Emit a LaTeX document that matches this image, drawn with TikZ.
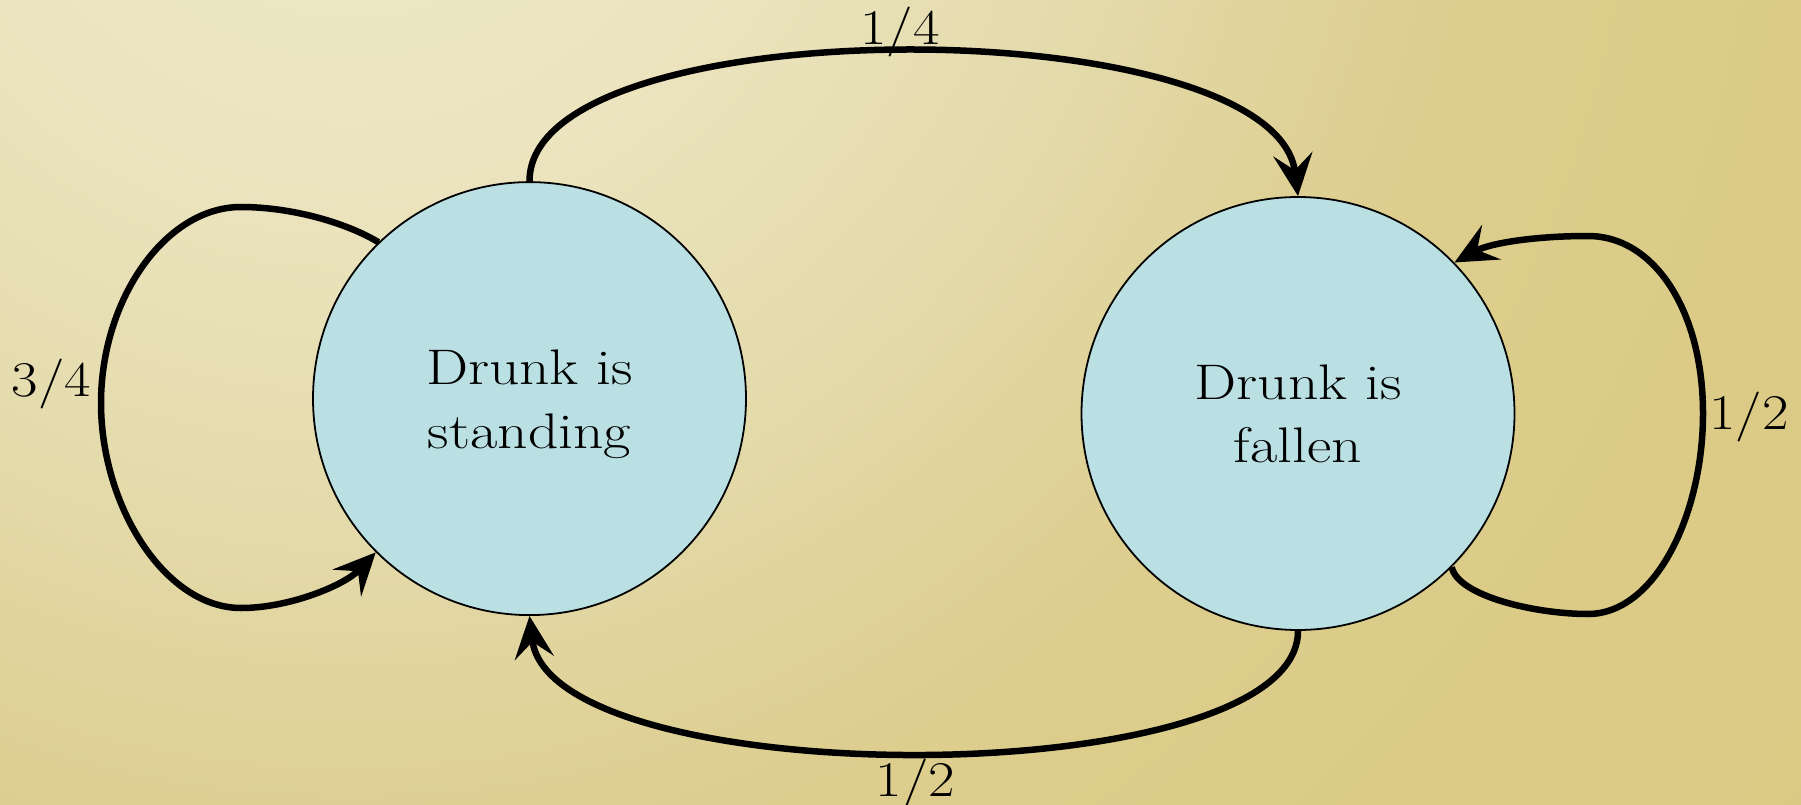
\documentclass[tikz,border=0pt]{standalone}
\usepackage{fontspec}
\newfontfamily\statefont{Latin Modern Roman}[FakeStretch=1.19]
\newfontfamily\probfont{Latin Modern Roman}[FakeStretch=1.15]
\usetikzlibrary{arrows.meta}
\definecolor{statefill}{RGB}{186,224,227}
\definecolor{bgouter}{RGB}{218,201,131}
% warm background glow, light in the upper left
% (the 25bp ring lands on the edge of the shaded circle)
\pgfdeclareradialshading{bgglow}{\pgfpoint{0bp}{0bp}}{%
  rgb(0bp)=(0.933,0.910,0.780);
  rgb(5.7bp)=(0.922,0.894,0.745);
  rgb(10bp)=(0.894,0.859,0.675);
  rgb(14.6bp)=(0.867,0.808,0.561);
  rgb(19.4bp)=(0.859,0.796,0.529);
  rgb(25bp)=(0.855,0.788,0.514);
  rgb(50bp)=(0.855,0.788,0.514)}
\begin{document}
\begin{tikzpicture}[x=1pt,y=-1pt,
  state/.style={circle, draw=black, line width=1.8pt, fill=statefill,
    minimum size=433pt, inner sep=0pt},
  statetext/.style={align=center, inner sep=0pt,
    font=\statefont\fontsize{50}{63.3}\selectfont},
  prob/.style={font=\probfont\fontsize{50}{60}\selectfont, anchor=base,
    inner sep=0pt},
  trans/.style={line width=6.5pt,
    -{Stealth[length=42pt,width=39pt,inset=16pt]}},
]
\useasboundingbox (0,0) rectangle (1801,805);
\begin{scope}
  \clip (0,0) rectangle (1801,805);
  \fill[bgouter] (0,0) rectangle (1801,805);
  \shade[shading=bgglow] (350,-250) circle (1900);
\end{scope}

% the two states
\node[state] (s) at (529.5,398.6) {};
\node[state] (f) at (1298,413.5) {};
\node[statetext] (stxt) at (529.5,404.1) {Drunk is\\standing};
\node[statetext] (ftxt) at (1298,419) {Drunk is\\fallen\vphantom{g}};

% transitions between the states
\draw[trans] (s.north) .. controls (529.5,6) and (1275,8) .. (f.north);
\draw[trans] (f.south) .. controls (1298,795) and (550,795) .. (s.south);

% self loops
\draw[trans] (s.134) .. controls (345,222) and (290,207) .. (241,207)
  .. controls (165,207) and (101,300) .. (101,403)
  .. controls (101,506) and (165,608) .. (241,608)
  .. controls (290,608) and (345,585) .. (s.225);
\draw[trans] (f.-45) .. controls (1458,596) and (1535,614) .. (1588,614)
  .. controls (1655,614) and (1703,515) .. (1703,413.5)
  .. controls (1703,312) and (1655,236) .. (1588,236)
  .. controls (1535,236) and (1490,243) .. (f.44);

% transition probabilities
\node[prob] (p14) at (900,44.3) {1/4};
\node[prob] (p12b) at (915.5,796) {1/2};
\node[prob] (p34) at (51.5,396.7) {3/4};
\node[prob] (p12r) at (1749,429.3) {1/2};
\end{tikzpicture}
\end{document}
